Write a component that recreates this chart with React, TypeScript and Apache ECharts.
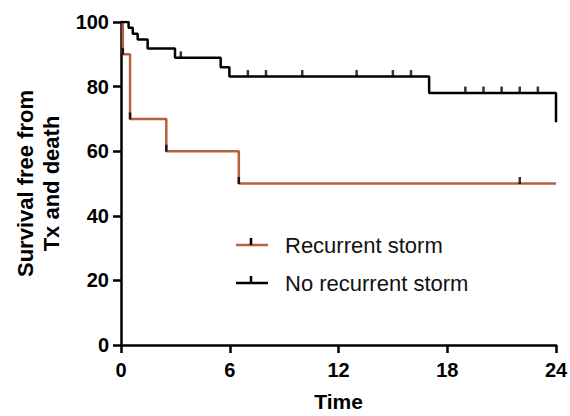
import React, { useEffect, useRef } from "react";
import * as echarts from "echarts";

// Kaplan-Meier step points [time, survival %]
const recurrentSteps: [number, number][] = [
  [0, 100], [0.1, 90], [0.5, 70], [2.5, 60], [6.5, 50], [24, 50],
];
const noRecurrentSteps: [number, number][] = [
  [0, 100], [0.42, 98.2], [0.65, 96.4], [0.92, 94.6], [1.47, 91.8],
  [2.98, 88.9], [5.5, 86.0], [5.98, 83.1], [17, 78.0], [24, 69.0],
];
// censor marks
const recurrentCensored: [number, number][] = [
  [0.1, 90], [0.5, 70], [2.5, 60], [6.5, 50], [22, 50],
];
const noRecurrentCensored: [number, number][] = [
  [3.3, 88.9], [7, 83.1], [8, 83.1], [10, 83.1], [13, 83.1], [15, 83.1], [16, 83.1],
  [19, 78.0], [20, 78.0], [21, 78.0], [22, 78.0], [23, 78.0],
];
const xTicks = [0, 6, 12, 18, 24];
const yTicks = [0, 20, 40, 60, 80, 100];
const seriesNames = ["Recurrent storm", "No recurrent storm"];

const RED = "#B5603E";
const BLACK = "#000000";
const FONT = "'Liberation Sans', Arial, Helvetica, sans-serif";

export default function App() {
  const ref = useRef<HTMLDivElement>(null);
  useEffect(() => {
    if (!ref.current) return;
    const chart = echarts.init(ref.current, undefined, { renderer: "svg" });
    const tickStyle = { color: BLACK, fontFamily: FONT, fontWeight: "bold" as const, fontSize: 20 };
    chart.setOption({
      animation: false,
      backgroundColor: "#ffffff",
      grid: { left: 121, right: 14, top: 22, bottom: 71, containLabel: false, outerBoundsMode: "none" },
      xAxis: {
        type: "value",
        min: xTicks[0],
        max: xTicks[xTicks.length - 1],
        interval: 6,
        name: "Time",
        nameLocation: "middle",
        nameGap: 46,
        nameTextStyle: { ...tickStyle, fontSize: 21 },
        axisLine: { lineStyle: { color: BLACK, width: 2.5 } },
        axisTick: { length: 8, lineStyle: { color: BLACK, width: 2.5 } },
        axisLabel: { ...tickStyle, margin: 15 },
        splitLine: { show: false },
      },
      yAxis: {
        type: "value",
        min: yTicks[0],
        max: yTicks[yTicks.length - 1],
        interval: 20,
        name: "Survival free from\nTx and death",
        nameLocation: "middle",
        nameRotate: 90,
        nameGap: 56,
        nameTextStyle: { ...tickStyle, fontSize: 22, lineHeight: 26 },
        axisLine: { lineStyle: { color: BLACK, width: 2.5 } },
        axisTick: { length: 8, lineStyle: { color: BLACK, width: 2.5 } },
        axisLabel: { ...tickStyle, margin: 12 },
        splitLine: { show: false },
      },
      series: [
        {
          name: seriesNames[0],
          type: "line",
          step: "end",
          data: recurrentSteps,
          symbol: "none",
          lineStyle: { color: RED, width: 2.5 },
          z: 2,
        },
        {
          name: seriesNames[1],
          type: "line",
          step: "end",
          data: noRecurrentSteps,
          symbol: "none",
          lineStyle: { color: BLACK, width: 2.5 },
          z: 3,
        },
        {
          type: "scatter",
          data: recurrentCensored,
          symbol: "rect",
          symbolSize: [2.5, 7],
          symbolOffset: [0, -3],
          itemStyle: { color: BLACK },
          z: 4,
        },
        {
          type: "scatter",
          data: noRecurrentCensored,
          symbol: "rect",
          symbolSize: [2.5, 7],
          symbolOffset: [0, -3],
          itemStyle: { color: BLACK },
          z: 4,
        },
      ],
      graphic: [
        { type: "line", shape: { x1: 236, y1: 245, x2: 268, y2: 245 }, style: { stroke: RED, lineWidth: 2.5 } },
        { type: "line", shape: { x1: 251, y1: 238, x2: 251, y2: 245 }, style: { stroke: BLACK, lineWidth: 2.5 } },
        {
          type: "text", x: 285, y: 245,
          style: { text: seriesNames[0], font: `22px ${FONT}`, fill: "#111", verticalAlign: "middle", textAlign: "left" },
        },
        { type: "line", shape: { x1: 236, y1: 283, x2: 268, y2: 283 }, style: { stroke: BLACK, lineWidth: 2.5 } },
        { type: "line", shape: { x1: 251, y1: 276, x2: 251, y2: 283 }, style: { stroke: BLACK, lineWidth: 2.5 } },
        {
          type: "text", x: 285, y: 283,
          style: { text: seriesNames[1], font: `22px ${FONT}`, fill: "#111", verticalAlign: "middle", textAlign: "left" },
        },
      ],
    });
    return () => chart.dispose();
  }, []);
  return <div ref={ref} style={{ width: 570, height: 416, position: "absolute", left: 0, top: 0 }} />;
}
